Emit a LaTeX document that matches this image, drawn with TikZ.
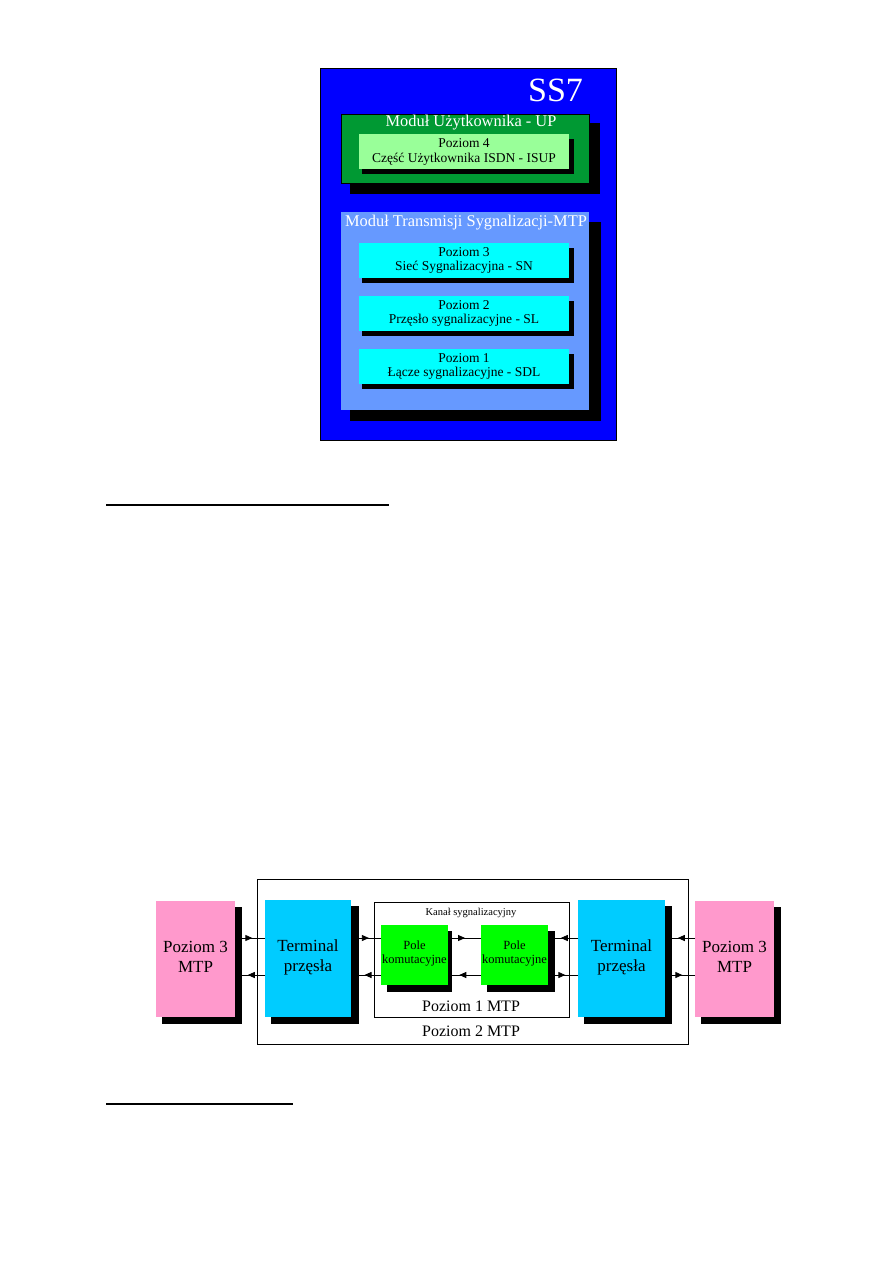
\documentclass[tikz,border=0pt]{standalone}
\usepackage{fontspec}
\setmainfont{Liberation Serif}
\usetikzlibrary{arrows.meta,decorations.markings}
\definecolor{ssblue}{RGB}{0,0,255}
\definecolor{updark}{RGB}{0,153,51}
\definecolor{uplight}{RGB}{153,255,153}
\definecolor{mtpblue}{RGB}{102,153,255}
\definecolor{lvlcyan}{RGB}{0,255,255}
\definecolor{termcyan}{RGB}{0,204,255}
\definecolor{pinkbox}{RGB}{255,153,204}
\definecolor{polegreen}{RGB}{0,255,0}
\newcommand{\fs}[2]{\fontsize{#1}{#2}\selectfont}
\begin{document}
\begin{tikzpicture}[x=1pt,y=-1pt,
  box/.style={rectangle, inner sep=0pt, outer sep=0pt, anchor=north west, draw=none},
  shadowbox/.style={box, fill=black},
  txt/.style={inner sep=0pt, align=center},
  arrR/.style={postaction={decorate}, decoration={markings, mark=at position 0.45 with {\arrow{Triangle[length=7pt,width=6pt]}}}},
  arrL/.style={postaction={decorate}, decoration={markings, mark=at position 0.75 with {\arrow{Triangle[length=7pt,width=6pt]}}}},
  conn/.style={line width=0.8pt}
]
\useasboundingbox (0,0) rectangle (893,1263);

% ---------- top diagram ----------
\node[box, fill=ssblue, draw=black, line width=1pt, minimum width=296pt, minimum height=371pt] (ss7) at (320,69) {};
\node[txt, text=white, font=\fs{34}{38}] (ss7t) at (555.5,90) {SS7};

\node[shadowbox, minimum width=250pt, minimum height=71pt] (ups) at (350,123) {};
\node[box, fill=updark, draw=black, line width=0.8pt, minimum width=248pt, minimum height=69pt] (up) at (341,114) {};
\node[txt, text=white, font=\fs{16.4}{19}] (upt) at (471,122.5) {Moduł Użytkownika - UP};

\node[shadowbox, minimum width=212pt, minimum height=35pt] (l4s) at (362,139) {};
\node[box, fill=uplight, minimum width=210pt, minimum height=35pt] (l4) at (359,134) {};
\node[txt, font=\fs{13.5}{15}] (l4t) at (l4.center) {Poziom 4\\Część Użytkownika ISDN - ISUP};

\node[shadowbox, minimum width=251pt, minimum height=199pt] (mtps) at (350,222) {};
\node[box, fill=mtpblue, minimum width=248pt, minimum height=198pt] (mtp) at (341,212) {};
\node[txt, text=white, font=\fs{16.4}{19}] (mtpt) at (466,222.5) {Moduł Transmisji Sygnalizacji-MTP};

\node[shadowbox, minimum width=212pt, minimum height=35pt] (l3s) at (362,248) {};
\node[box, fill=lvlcyan, minimum width=210pt, minimum height=35pt] (l3) at (359,243) {};
\node[txt, font=\fs{13.5}{14.5}] (l3t) at (l3.center) {Poziom 3\\Sieć Sygnalizacyjna - SN};

\node[shadowbox, minimum width=212pt, minimum height=35pt] (l2s) at (362,301) {};
\node[box, fill=lvlcyan, minimum width=210pt, minimum height=35pt] (l2) at (359,296) {};
\node[txt, font=\fs{13.5}{14.5}] (l2t) at (l2.center) {Poziom 2\\Przęsło sygnalizacyjne - SL};

\node[shadowbox, minimum width=212pt, minimum height=35pt] (l1s) at (362,354) {};
\node[box, fill=lvlcyan, minimum width=210pt, minimum height=35pt] (l1) at (359,349) {};
\node[txt, font=\fs{13.5}{14.5}] (l1t) at (l1.center) {Poziom 1\\Łącze sygnalizacyjne - SDL};

% ---------- rules ----------
\coordinate (r1a) at (106,505); \coordinate (r1b) at (389,505);
\draw[line width=2pt] (r1a) -- (r1b);
\coordinate (r2a) at (106,1104); \coordinate (r2b) at (293,1104);
\draw[line width=2pt] (r2a) -- (r2b);

% ---------- bottom diagram ----------
\node[box, draw=black, line width=1pt, minimum width=431pt, minimum height=165pt] (p2) at (257,879) {};
\node[box, draw=black, line width=1pt, minimum width=195pt, minimum height=115pt] (p1) at (374,902) {};
\node[txt, font=\fs{10.5}{12}] (kanal) at (471,913) {Kanał sygnalizacyjny};
\node[txt, font=\fs{16}{19}] (p1t) at (471,1006) {Poziom 1 MTP};
\node[txt, font=\fs{16}{19}] (p2t) at (471,1031) {Poziom 2 MTP};

\node[shadowbox, minimum width=80pt, minimum height=117pt] (pLs) at (162,907) {};
\node[box, fill=pinkbox, minimum width=79pt, minimum height=116pt] (pL) at (156,901) {};
\node[txt, font=\fs{17}{20}] (pLt) at (195.5,957) {Poziom 3\\MTP};

\node[shadowbox, minimum width=88pt, minimum height=118pt] (tLs) at (271,906) {};
\node[box, fill=termcyan, minimum width=86pt, minimum height=117pt] (tL) at (265,900) {};
\node[txt, font=\fs{17}{20}] (tLt) at (308,957) {Terminal\\przęsła};

\node[shadowbox, minimum width=65pt, minimum height=61pt] (gLs) at (387,931) {};
\node[box, fill=polegreen, minimum width=67pt, minimum height=60pt] (gL) at (381,925) {};
\node[txt, font=\fs{12.5}{13.5}] (gLt) at (414.5,953.5) {Pole\\komutacyjne};

\node[shadowbox, minimum width=68pt, minimum height=61pt] (gRs) at (487,931) {};
\node[box, fill=polegreen, minimum width=67pt, minimum height=60pt] (gR) at (481,925) {};
\node[txt, font=\fs{12.5}{13.5}] (gRt) at (514.5,953.5) {Pole\\komutacyjne};

\node[shadowbox, minimum width=88pt, minimum height=118pt] (tRs) at (584,906) {};
\node[box, fill=termcyan, minimum width=87pt, minimum height=117pt] (tR) at (578,900) {};
\node[txt, font=\fs{17}{20}] (tRt) at (621.5,957) {Terminal\\przęsła};

\node[shadowbox, minimum width=80pt, minimum height=117pt] (pRs) at (701,907) {};
\node[box, fill=pinkbox, minimum width=79pt, minimum height=116pt] (pR) at (695,901) {};
\node[txt, font=\fs{17}{20}] (pRt) at (734.5,957) {Poziom 3\\MTP};

% connectors
\coordinate (yU) at (0,938);
\coordinate (yD) at (0,975);
\draw[conn, arrR] (pLs.east |- yU) -- (tL.west |- yU);
\draw[conn, arrR] (tLs.east |- yU) -- (gL.west |- yU);
\draw[conn, arrR] (gLs.east |- yU) -- (gR.west |- yU);
\draw[conn, arrL] (tR.west |- yU) -- (gRs.east |- yU);
\draw[conn, arrL] (pR.west |- yU) -- (tRs.east |- yU);

\draw[conn, arrL] (tL.west |- yD) -- (pLs.east |- yD);
\draw[conn, arrL] (gL.west |- yD) -- (tLs.east |- yD);
\draw[conn, arrL] (gR.west |- yD) -- (gLs.east |- yD);
\draw[conn, arrR] (gRs.east |- yD) -- (tR.west |- yD);
\draw[conn, arrR] (tRs.east |- yD) -- (pR.west |- yD);
\end{tikzpicture}
\end{document}
